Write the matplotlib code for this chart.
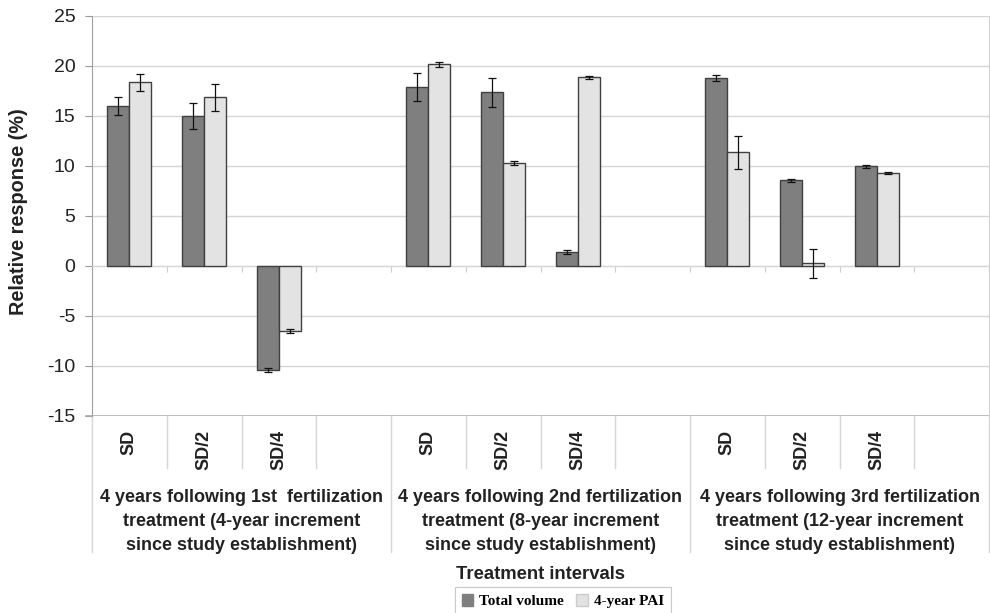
import matplotlib.pyplot as plt
import matplotlib.transforms as mtransforms
from matplotlib.patches import Patch
import numpy as np

plt.rcParams['font.family'] = ['Liberation Sans', 'DejaVu Sans']
plt.rcParams['axes.unicode_minus'] = False

# positions of filled categories (4th slot in each group is empty)
pos = [0, 1, 2, 4, 5, 6, 8, 9, 10]
inner_labels = ["SD", "SD/2", "SD/4"] * 3
groups = ["4 years following 1st  fertilization\ntreatment (4-year increment\nsince study establishment)",
          "4 years following 2nd fertilization\ntreatment (8-year increment\nsince study establishment)",
          "4 years following 3rd fertilization\ntreatment (12-year increment\nsince study establishment)"]
total_vol = [16.0, 15.0, -10.4, 17.9, 17.4, 1.4, 18.8, 8.6, 10.0]
total_err = [0.9, 1.3, 0.2, 1.4, 1.45, 0.2, 0.3, 0.15, 0.15]
pai = [18.4, 16.9, -6.5, 20.2, 10.3, 18.9, 11.4, 0.3, 9.3]
pai_err = [0.85, 1.35, 0.2, 0.25, 0.2, 0.15, 1.65, 1.45, 0.1]

fig = plt.figure(figsize=(9.9, 6.13), dpi=100)
ax = fig.add_axes([92/990, 197/613, 897/990, 400/613])

w = 0.294
x = np.array(pos)
ax.bar(x - w/2, total_vol, w, color='#7f7f7f', edgecolor='#404040', linewidth=1, zorder=3)
ax.bar(x + w/2, pai, w, color='#e3e3e3', edgecolor='#404040', linewidth=1, zorder=3)
ax.errorbar(x - w/2, total_vol, yerr=total_err, fmt='none', ecolor='#111111',
            elinewidth=0.9, capsize=3, capthick=0.9, zorder=4)
ax.errorbar(x + w/2, pai, yerr=pai_err, fmt='none', ecolor='#111111',
            elinewidth=0.9, capsize=3, capthick=0.9, zorder=4)

ax.set_xlim(-0.5, 11.5)
ax.set_ylim(-15, 25)
ax.set_yticks(range(-15, 30, 5))
ax.tick_params(axis='y', labelsize=14, length=5, width=0.8, color='#999999', pad=7,
               labelcolor='#222222')
ax.yaxis.grid(True, color='#d6d6d6', linewidth=1, zorder=0)
ax.axhline(25, color='#a8a8a8', linewidth=1.2, zorder=1)
ax.axhline(-15, color='#a8a8a8', linewidth=1.2, zorder=1)

ax.spines['top'].set_visible(False)
ax.spines['left'].set_color('#a0a0a0')
ax.spines['right'].set_color('#d0d0d0')

# horizontal category axis at zero with small ticks at boundaries
bounds = np.arange(-0.5, 12.0, 1.0)
ax.set_xticks(bounds)
ax.set_xticklabels([])
ax.spines['bottom'].set_position(('data', 0))
ax.spines['bottom'].set_color('#d6d6d6')
ax.tick_params(axis='x', length=4, width=0.8, color='#cccccc', direction='out')

trans = mtransforms.blended_transform_factory(ax.transData, ax.transAxes)
# left extension of bottom line
ax.plot([-0.5 - 6/74.75, -0.5], [0, 0], transform=trans, color='#a8a8a8',
        linewidth=1.2, clip_on=False)
for b in bounds:
    if b in (-0.5, 3.5, 7.5, 11.5):
        ax.plot([b, b], [0, -0.34], transform=trans, color='#d6d6d6', linewidth=1, clip_on=False)
    else:
        ax.plot([b, b], [0, -0.13], transform=trans, color='#d6d6d6', linewidth=1, clip_on=False)

for p, lab in zip(pos, inner_labels):
    ax.text(p, -0.034, lab, transform=trans, rotation=90, ha='center', va='top',
            fontsize=13, fontweight='bold', color='#222222')

for i, g in enumerate(groups):
    ax.text(4*i + 1.5, -0.183, g, transform=trans, ha='center', va='top',
            fontsize=13, fontweight='bold', color='#222222', linespacing=1.55)

ax.text(0.5, -0.375, "Treatment intervals", transform=ax.transAxes, ha='center', va='top',
        fontsize=13.3, fontweight='bold', color='#222222')
fig.text(19/990, 1 - 212/613, "Relative response (%)", rotation=90, ha='center', va='center',
         fontsize=14.3, fontweight='bold', color='#222222')

handles = [Patch(facecolor='#7f7f7f', edgecolor='#7f7f7f', label='Total volume'),
           Patch(facecolor='#e3e3e3', edgecolor='#cccccc', label='4-year PAI')]
leg = fig.legend(handles=handles, loc='lower center', bbox_to_anchor=(563/990, -0.016), ncol=2,
                 prop={'family': 'Liberation Serif', 'weight': 'bold', 'size': 11},
                 handlelength=0.75, handleheight=0.75, handletextpad=0.4, columnspacing=0.8,
                 borderpad=0.45, fancybox=False, edgecolor='#c8c8c8', framealpha=1)
leg.get_frame().set_linewidth(0.8)

fig.savefig('out.png', dpi=100)
